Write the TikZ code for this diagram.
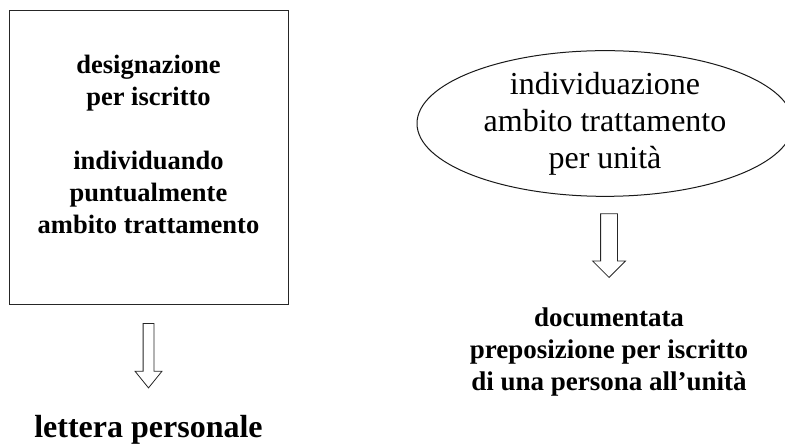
\documentclass[tikz,border=0pt]{standalone}
\usepackage{fontspec}
\setmainfont{Liberation Serif}
\usetikzlibrary{positioning,shapes.geometric,shapes.arrows}

\begin{document}
\begin{tikzpicture}[x=1pt,y=1pt,
    squarebox/.style={draw=black!85,line width=1pt,minimum width=279pt,minimum height=294pt,inner sep=0pt},
    unitoval/.style={ellipse,draw=black!90,line width=1pt,minimum width=376pt,minimum height=143pt,inner sep=0pt,
      align=center,font=\fontsize{32}{37}\selectfont},
    boldtext/.style={inner sep=0pt,align=center,font=\bfseries\fontsize{27}{32}\selectfont},
    blockdown/.style={single arrow,draw=black!85,line width=0.8pt,shape border rotate=270,single arrow head extend=8pt}]
  \useasboundingbox (0,0) rectangle (785,444);
  \node[squarebox] (box) at (148.5,286) {};
  \node[boldtext,font=\bfseries\fontsize{26.5}{32}\selectfont,below=44pt of box.north] (desig)
    {designazione\\per iscritto\\[32pt]individuando\\puntualmente\\ambito trattamento};
  \node[blockdown,inner sep=5pt,minimum height=64.3pt,single arrow tip angle=78,below=17.7pt of box.south,anchor=tail] (larrow) {};
  \node[boldtext,font=\bfseries\fontsize{32}{37}\selectfont,below=27pt of larrow.tip] (lettera) {lettera personale};

  \node[unitoval] (unit) at (605,320.5) {individuazione\\ambito trattamento\\per unità};
  \node[blockdown,inner sep=8pt,minimum height=63.7pt,single arrow tip angle=90,below=16.5pt of unit.south,xshift=4pt,anchor=tail] (rarrow) {};
  \node[boldtext,below=29.3pt of rarrow.tip] (prepos) {documentata\\preposizione per iscritto\\di una persona all’unità};
\end{tikzpicture}
\end{document}
